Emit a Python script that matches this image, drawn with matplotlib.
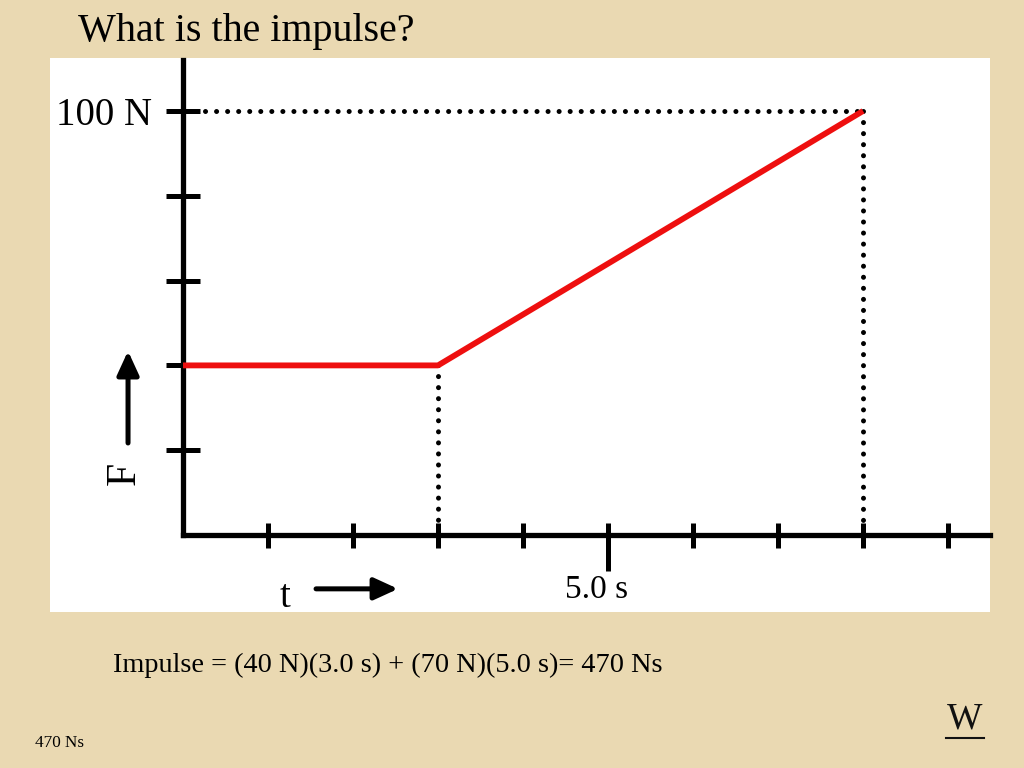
import matplotlib
matplotlib.use('Agg')
import matplotlib.pyplot as plt
from matplotlib.ticker import FixedLocator, FixedFormatter

plt.rcParams['font.family'] = ['Liberation Serif', 'DejaVu Serif']

# force vs time (s, N)
t_pts = [0, 3, 8]
f_pts = [40, 40, 100]
y_ticks = [20, 40, 60, 80, 100]
x_ticks = [1, 2, 3, 4, 5, 6, 7, 8, 9]
marked_t = 5
impulse_txt = 'Impulse = (40 N)(3.0 s) + (70 N)(5.0 s)= 470 Ns'

bg = '#EAD9B2'

fig = plt.figure(figsize=(10.24, 7.68), dpi=100, facecolor=bg)
ax = fig.add_axes([50 / 1024, 1 - 612 / 768, 940 / 1024, 554 / 768])
ax.set_facecolor('white')
ax.set_xlim(-1.565, 9.494)
ax.set_ylim(-18.16, 112.5)

for s in ['top', 'right']:
    ax.spines[s].set_visible(False)
for s in ['left', 'bottom']:
    ax.spines[s].set_position(('data', 0))
    ax.spines[s].set_linewidth(3.8)
    ax.spines[s].set_capstyle('projecting')
ax.spines['left'].set_bounds(0, 112)
ax.spines['bottom'].set_bounds(0, 9.494)

# y ticks
ax.yaxis.set_major_locator(FixedLocator(y_ticks))
ax.yaxis.set_major_formatter(FixedFormatter(['', '', '', '', '100 N']))
ax.tick_params(axis='y', direction='inout', length=24, width=3.6, pad=10,
               labelsize=28)

# x ticks, the marked one longer
ax.xaxis.set_major_locator(FixedLocator(x_ticks))
ax.xaxis.set_major_formatter(FixedFormatter([''] * len(x_ticks)))
ax.xaxis.set_minor_locator(FixedLocator([marked_t]))
ax.xaxis.set_minor_formatter(FixedFormatter(['']))
ax.xaxis.remove_overlapping_locs = False
ax.tick_params(axis='x', which='major', direction='inout', length=18, width=3.6)
ax.tick_params(axis='x', which='minor', direction='out', length=26, width=3.6)
ax.text(marked_t - 0.13, -9.4, '%.1f s' % marked_t, fontsize=24,
        ha='center', va='top')

# dotted guide lines
dot = dict(color='black', lw=3.6, linestyle=(0, (0.01, 2.2)),
           dash_capstyle='round')
ax.plot([0.26, t_pts[2]], [f_pts[2], f_pts[2]], **dot)
ax.plot([t_pts[1], t_pts[1]], [f_pts[1], 0], **dot)
ax.plot([t_pts[2], t_pts[2]], [f_pts[2], 0], **dot)

# force curve
ax.plot(t_pts, f_pts, color='#EE0F0F', lw=4.2, solid_capstyle='butt', zorder=5)

# axis labels with arrows
arr = dict(arrowstyle='-|>,head_width=0.55,head_length=1.2', lw=3.6,
           color='black', mutation_scale=12, shrinkA=0, shrinkB=0)
ax.text(-0.694, 14.6, 'F', rotation=90, fontsize=30, ha='center',
        va='center')
ax.annotate('', xy=(-0.647, 43.4), xytext=(-0.647, 21.7), arrowprops=arr)
ax.text(1.2, -14.8, 't', fontsize=28, ha='center', va='center')
ax.annotate('', xy=(2.53, -12.7), xytext=(1.565, -12.7), arrowprops=arr)

# slide text
fig.text(78 / 1024, 1 - 32 / 768, 'What is the impulse?', fontsize=28.8,
         ha='left', va='center')
fig.text(113 / 1024, 1 - 665 / 768, impulse_txt, fontsize=20.3,
         ha='left', va='center')
fig.text(35 / 1024, 1 - 743 / 768, '470 Ns', fontsize=12.3,
         ha='left', va='center')
fig.text(965 / 1024, 1 - 719 / 768, 'W', fontsize=27, ha='center',
         va='center', color='#111111')
fig.add_artist(plt.Line2D([946 / 1024, 984 / 1024], [1 - 738 / 768] * 2,
                          color='#111111', lw=1.5))

fig.savefig('out.png', dpi=100, facecolor=bg)
